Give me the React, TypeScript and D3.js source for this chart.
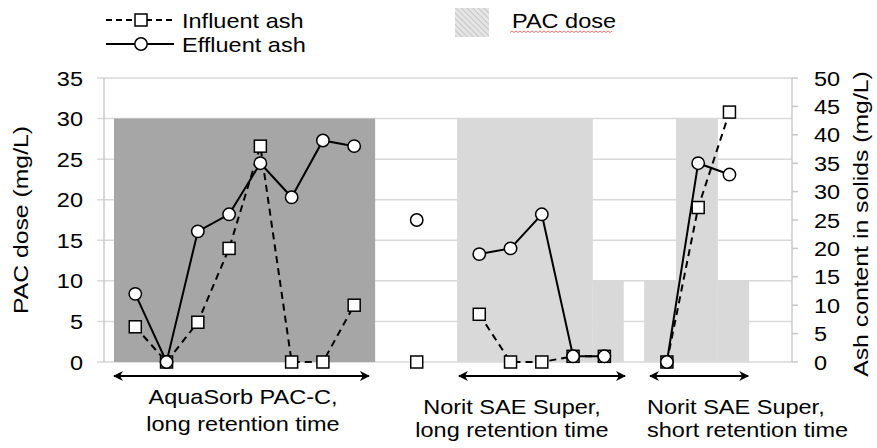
import React from 'react';
import * as d3 from 'd3';

// sample positions along the run (gaps = no sample taken)
const samples = [0, 1, 2, 3, 4, 5, 6, 7, 8, 9, 10, 11, 12, 13, 14, 15, 16, 17, 18, 19];
const influentAsh = [6.2, 0, 7, 20, 38, 0, 0, 10, null, 0, null, 8.4, 0, 0, 1, 1, null, 0, 27.2, 44];
const effluentAsh = [12, 0, 23, 26, 35, 29, 39, 38, null, 25, null, 19, 20, 26, 1, 1, null, 0, 35, 33];

// PAC dose periods (start / end in sample units, dose in mg/L)
const doseStart = [-0.68, 10.29, 14.63, 16.27, 17.29, 18.63];
const doseEnd = [7.67, 14.63, 15.62, 17.29, 18.63, 19.63];
const doseValue = [30, 30, 10, 10, 30, 10];
const doseCarbon = ['AquaSorb', 'Norit', 'Norit', 'Norit', 'Norit', 'Norit'];

// experiment phases (arrows below the chart)
const phaseStart = [-0.68, 10.35, 16.46];
const phaseEnd = [7.47, 15.66, 19.6];
const phaseLabels = [
  ['AquaSorb PAC-C,', 'long retention time'],
  ['Norit SAE Super,', 'long retention time'],
  ['Norit SAE Super,', 'short retention time'],
];

const doseTicks = [0, 5, 10, 15, 20, 25, 30, 35];
const ashTicks = [0, 5, 10, 15, 20, 25, 30, 35, 40, 45, 50];

const FONT = '"Liberation Sans", Arial, sans-serif';

const Label = ({ x, y, children, anchor = 'start', rotate = 0, size = 21, sx = 1.12 }) => (
  <g transform={`translate(${x},${y}) rotate(${rotate}) scale(${sx},1)`}>
    <text textAnchor={anchor} fontSize={size} fontFamily={FONT} fill="#000">{children}</text>
  </g>
);

const App = () => {
  const left = 104, right = 792, top = 78, bottom = 362;

  const x = d3.scaleLinear().domain([-1, 21]).range([left, right]);
  const yDose = d3.scaleLinear().domain([0, 35]).range([bottom, top]);
  const yAsh = d3.scaleLinear().domain([0, 50]).range([bottom, top]);

  const line = d3.line()
    .defined(d => d[1] != null)
    .x(d => x(d[0]))
    .y(d => yAsh(d[1]));

  const inf = samples.map((s, i) => [s, influentAsh[i]]);
  const eff = samples.map((s, i) => [s, effluentAsh[i]]);

  const arrowY = 376;
  const labelPos = [
    { x: 243, y: [404, 431], anchor: 'middle' },
    { x: 512, y: [414, 437], anchor: 'middle' },
    { x: 647, y: [414, 437], anchor: 'start' },
  ];

  return (
    <svg width={877} height={448} style={{ position: 'absolute', left: 0, top: 0 }}>
      <defs>
        <pattern id="hatch" width="4" height="4" patternUnits="userSpaceOnUse" patternTransform="rotate(-45)">
          <rect width="4" height="4" fill="#e4e4e4" />
          <line x1="0" y1="0" x2="0" y2="4" stroke="#bdbdbd" strokeWidth="1.6" />
        </pattern>
        <marker id="ah" viewBox="0 0 10 10" refX="9" refY="5" markerWidth="10" markerHeight="10" markerUnits="userSpaceOnUse" orient="auto-start-reverse">
          <path d="M0,0 L10,5 L0,10 L3,5 Z" fill="#000" />
        </marker>
      </defs>

      {/* gridlines */}
      {doseTicks.map(t => (
        <line key={'g' + t} x1={left - 7} x2={right} y1={yDose(t)} y2={yDose(t)} stroke="#d9d9d9" strokeWidth={1.5} />
      ))}

      {/* PAC dose bars */}
      {doseValue.map((v, i) => (
        <rect key={'b' + i}
          x={x(doseStart[i])} width={x(doseEnd[i]) - x(doseStart[i])}
          y={yDose(v)} height={yDose(0) - yDose(v)}
          fill={doseCarbon[i] === 'AquaSorb' ? '#a6a6a6' : '#d9d9d9'} />
      ))}

      {/* axes */}
      <line x1={left} x2={left} y1={top} y2={bottom} stroke="#c8c8c8" strokeWidth={1.5} />
      <line x1={right} x2={right} y1={top} y2={bottom} stroke="#c8c8c8" strokeWidth={1.5} />
      {ashTicks.map(t => (
        <line key={'rt' + t} x1={right} x2={right + 6} y1={yAsh(t)} y2={yAsh(t)} stroke="#c8c8c8" strokeWidth={1.5} />
      ))}
      {doseTicks.map(t => (
        <Label key={'lt' + t} x={83} y={yDose(t) + 7.5} anchor="end">{t}</Label>
      ))}
      {ashTicks.map(t => (
        <Label key={'rl' + t} x={814} y={yAsh(t) + 7.5}>{t}</Label>
      ))}
      <Label x={28} y={220} rotate={-90} anchor="middle" sx={1.18}>PAC dose (mg/L)</Label>
      <Label x={868} y={224} rotate={-90} anchor="middle" sx={1.18}>Ash content in solids (mg/L)</Label>

      {/* ash series */}
      <path d={line(inf)} fill="none" stroke="#000" strokeWidth={2} strokeDasharray="7,5" />
      {inf.filter(d => d[1] != null).map((d, i) => (
        <rect key={'s' + i} x={x(d[0]) - 6} y={yAsh(d[1]) - 6} width={12} height={12} fill="#fff" stroke="#000" strokeWidth={1.5} />
      ))}
      <path d={line(eff)} fill="none" stroke="#000" strokeWidth={2} />
      {eff.filter(d => d[1] != null).map((d, i) => (
        <circle key={'c' + i} cx={x(d[0])} cy={yAsh(d[1])} r={6.2} fill="#fff" stroke="#000" strokeWidth={1.5} />
      ))}

      {/* phase arrows and labels */}
      {phaseStart.map((s, i) => (
        <line key={'a' + i} x1={x(s)} x2={x(phaseEnd[i])} y1={arrowY} y2={arrowY}
          stroke="#000" strokeWidth={2} markerStart="url(#ah)" markerEnd="url(#ah)" />
      ))}
      {phaseLabels.map((lines, i) => lines.map((t, j) => (
        <Label key={'pl' + i + j} x={labelPos[i].x} y={labelPos[i].y[j]} anchor={labelPos[i].anchor}>{t}</Label>
      )))}

      {/* legend */}
      <line x1={106} x2={174} y1={20} y2={20} stroke="#000" strokeWidth={2} strokeDasharray="6,4" />
      <rect x={135} y={14} width={12} height={12} fill="#fff" stroke="#000" strokeWidth={1.5} />
      <Label x={182} y={28}>Influent ash</Label>
      <line x1={106} x2={174} y1={44} y2={44} stroke="#000" strokeWidth={2} />
      <circle cx={141} cy={44} r={6.2} fill="#fff" stroke="#000" strokeWidth={1.5} />
      <Label x={182} y={52}>Effluent ash</Label>
      <rect x={455} y={8} width={34} height={29} fill="url(#hatch)" />
      <Label x={512} y={28}>PAC dose</Label>
      <path d={d3.range(0, 103, 2).map((d, i) => `${i ? 'L' : 'M'}${510 + d},${i % 2 ? 31 : 32.5}`).join('')}
        fill="none" stroke="#e05050" strokeWidth={0.8} />
    </svg>
  );
};

export default App;
